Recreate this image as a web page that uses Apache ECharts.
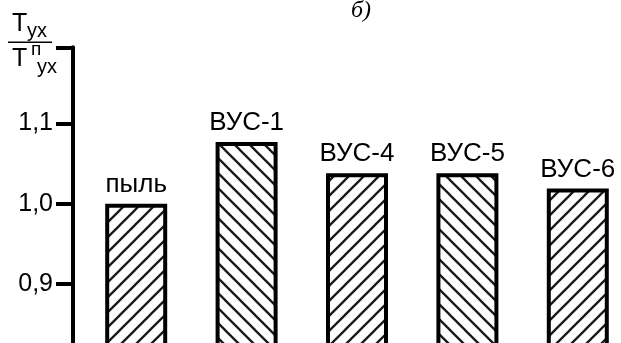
<!DOCTYPE html>
<html>
<head>
<meta charset="utf-8">
<script src="https://cdn.jsdelivr.net/npm/echarts@6/dist/echarts.min.js"></script>
<style>
html,body{margin:0;padding:0;background:#fff;}
#c{width:621px;height:343px;}
</style>
</head>
<body>
<div id="c"></div>
<script>
const categories = ['пыль', 'ВУС-1', 'ВУС-4', 'ВУС-5', 'ВУС-6'];
const values = [1.00, 1.077, 1.038, 1.038, 1.019];
const yTickValues = [0.9, 1.0, 1.1];
const yTickLabels = ['0,9', '1,0', '1,1'];

const hatchDir = ['/', '\\', '/', '\\', '/'];

function makeHatch(dir) {
  const s = 15;
  const c = document.createElement('canvas');
  c.width = s; c.height = s;
  const g = c.getContext('2d');
  g.fillStyle = '#fff';
  g.fillRect(0, 0, s, s);
  g.strokeStyle = '#1a1a1a';
  g.lineWidth = 2.3;
  g.beginPath();
  if (dir === '/') {
    g.moveTo(-2, s + 2); g.lineTo(s + 2, -2);
    g.moveTo(-2, 2); g.lineTo(2, -2);
    g.moveTo(s - 2, s + 2); g.lineTo(s + 2, s - 2);
  } else {
    g.moveTo(-2, -2); g.lineTo(s + 2, s + 2);
    g.moveTo(-2, s - 2); g.lineTo(2, s + 2);
    g.moveTo(s - 2, -2); g.lineTo(s + 2, 2);
  }
  g.stroke();
  return c;
}

const chart = echarts.init(document.getElementById('c'), null, {renderer: 'canvas'});
const FONT = 'Liberation Sans, Arial, sans-serif';

chart.setOption({
  animation: false,
  backgroundColor: '#fff',
  grid: {left: 81, top: 47.3, width: 552, height: 317, containLabel: false, outerBoundsMode: 'none'},
  xAxis: {
    type: 'category',
    data: categories,
    boundaryGap: true,
    axisLine: {show: false},
    axisTick: {show: false},
    axisLabel: {show: false},
    splitLine: {show: false}
  },
  yAxis: {
    type: 'value',
    min: 0.8,
    max: 1.195,
    interval: 0.1,
    offset: 8,
    axisLine: {show: true, lineStyle: {color: '#000', width: 4}},
    axisTick: {show: true, length: 17, lineStyle: {color: '#000', width: 4}},
    splitLine: {show: false},
    axisLabel: {
      margin: 20,
      color: '#000',
      fontSize: 25,
      fontFamily: FONT,
      formatter: function (v) {
        for (let i = 0; i < yTickValues.length; i++) {
          if (Math.abs(v - yTickValues[i]) < 1e-6) return yTickLabels[i];
        }
        return '';
      }
    }
  },
  series: [{
    type: 'bar',
    barWidth: 62,
    data: values.map((v, i) => ({
      value: v,
      itemStyle: {
        color: {image: makeHatch(hatchDir[i]), repeat: 'repeat'},
        borderColor: '#000',
        borderWidth: 4
      }
    })),
    label: {
      show: true,
      position: 'top',
      distance: 6,
      color: '#000',
      fontSize: 26,
      fontFamily: FONT,
      formatter: p => categories[p.dataIndex]
    }
  }],
  graphic: [
    {type: 'text', x: 12, y: 24, style: {text: 'T', font: '25px ' + FONT, fill: '#000', textVerticalAlign: 'middle'}},
    {type: 'text', x: 27, y: 31, style: {text: 'ух', font: '20px ' + FONT, fill: '#000', textVerticalAlign: 'middle'}},
    {type: 'rect', shape: {x: 8, y: 41.5, width: 44, height: 1.6}, style: {fill: '#000'}},
    {type: 'text', x: 12, y: 59, style: {text: 'T', font: '25px ' + FONT, fill: '#000', textVerticalAlign: 'middle'}},
    {type: 'text', x: 31, y: 50, style: {text: 'п', font: '19px ' + FONT, fill: '#000', textVerticalAlign: 'middle'}},
    {type: 'text', x: 37, y: 67, style: {text: 'ух', font: '20px ' + FONT, fill: '#000', textVerticalAlign: 'middle'}},
    {type: 'text', x: 361, y: 11, style: {text: 'б)', font: 'italic 24px Liberation Serif, Times New Roman, serif', fill: '#000', textAlign: 'center', textVerticalAlign: 'middle'}}
  ]
});
</script>
</body>
</html>
